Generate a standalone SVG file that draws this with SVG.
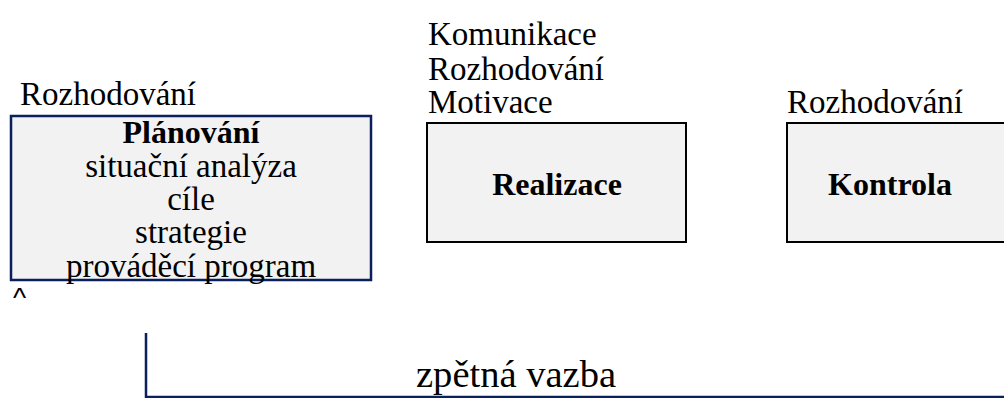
<svg xmlns="http://www.w3.org/2000/svg" width="1004" height="398" viewBox="0 0 1004 398">
<style>
text{font-family:"Liberation Serif","Times New Roman",serif;font-size:33px;fill:#000}
.b{font-weight:bold;font-size:32px}
.c{text-anchor:middle}
.box{fill:#f2f2f2;stroke:#000;stroke-width:2}
.pbox{fill:#f2f2f2;stroke:#0a1f5c;stroke-width:2.5}
.fb{fill:none;stroke:#0a1f5c;stroke-width:2.5}
</style>
<rect width="1004" height="398" fill="#fff"/>
<g id="labels">
<text x="20" y="105">Rozhodování</text>
<text x="428" y="45">Komunikace</text>
<text x="428" y="80">Rozhodování</text>
<text x="428" y="113">Motivace</text>
<text x="787" y="113">Rozhodování</text>
</g>
<g id="planovani">
<rect class="pbox" x="11" y="116" width="360" height="164"/>
<text class="c b" x="191" y="143">Plánování</text>
<text class="c" x="191" y="177">situační analýza</text>
<text class="c" x="191" y="210">cíle</text>
<text class="c" x="191" y="243">strategie</text>
<text class="c" x="191" y="277">prováděcí program</text>
</g>
<g id="realizace">
<rect class="box" x="427" y="123" width="259" height="119"/>
<text class="c b" x="557" y="195">Realizace</text>
</g>
<g id="kontrola">
<rect class="box" x="787" y="123" width="218" height="119"/>
<text class="c b" x="890" y="195">Kontrola</text>
</g>
<g id="connectors">
<text x="13" y="307" style="font-family:'Liberation Sans',sans-serif;font-size:28px">^</text>
<path class="fb" d="M146,333 V397 H1004"/>
<text class="c" transform="translate(516,387) scale(1,1.12)" x="0" y="0" style="font-size:34px" textLength="200" lengthAdjust="spacingAndGlyphs">zpětná vazba</text>
</g>
</svg>
